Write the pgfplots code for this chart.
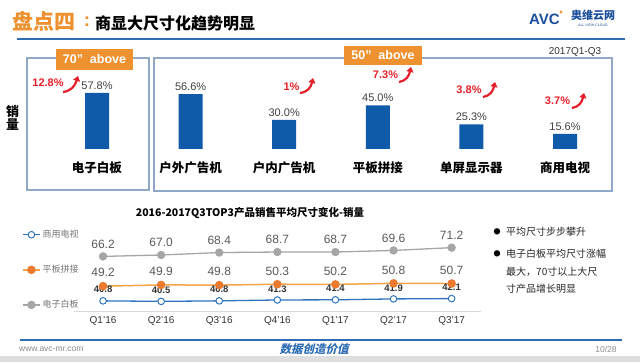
\documentclass[border=0pt]{standalone}
\usepackage{fontspec}
\setmainfont{Liberation Sans}
\newfontfamily\cjk{Noto Sans CJK SC}
\newfontfamily\cjkslant{Noto Sans CJK SC}[FakeSlant=0.25]
\usepackage{pgfplots}
\pgfplotsset{compat=1.18}
\usetikzlibrary{arrows.meta}
\definecolor{barblue}{HTML}{0F5BAA}
\definecolor{lineblue}{HTML}{2E6DB4}
\definecolor{orangeT}{HTML}{EE9130}
\definecolor{boxcol}{HTML}{8FA8C8}
\definecolor{redA}{HTML}{E5202A}
\definecolor{txtgray}{HTML}{595959}
\definecolor{lgray}{HTML}{A6A6A6}
\definecolor{lorange}{HTML}{F4A347}
\definecolor{dorange}{HTML}{EB7A2E}
\definecolor{sblue}{HTML}{2F75BE}
\definecolor{logoblue}{HTML}{1B4F9C}
\tikzset{redarrow/.style={draw=redA, line width=2.2pt, -{Triangle[length=5pt,width=7pt]}}}
\begin{document}
\begin{tikzpicture}[x=1pt,y=1pt]
\path[use as bounding box] (0pt,0pt) rectangle (640pt,362pt);
\fill[black!13] (0,0) rectangle (640,6);
% ---------- header
\node[anchor=west, inner sep=0, text=orangeT, font=\cjk\bfseries\fontsize{21}{21}\selectfont] at (12,341) {盘点四};
\node[anchor=center, inner sep=0, text=orangeT, font=\bfseries\fontsize{19}{19}\selectfont] at (87,340) {:};
\node[anchor=west, inner sep=0, font=\cjk\bfseries\fontsize{16}{16}\selectfont] at (95,339) {商显大尺寸化趋势明显};
\draw[lineblue, line width=2pt] (17,323) -- (625,323);
\node[anchor=west, inner sep=0, text=logoblue, font=\bfseries\fontsize{15}{15}\selectfont] at (529,343) {AVC};
\fill[orangeT] (561,350) circle (1.6);
\node[anchor=west, inner sep=0, text=logoblue, font=\cjk\bfseries\fontsize{11}{11}\selectfont] at (571,347) {奥维云网};
\node[anchor=west, inner sep=0, text=logoblue, font=\fontsize{3.5}{4}\selectfont] at (578,336.5) {ALL VIEW CLOUD};
\node[anchor=center, inner sep=0, text=black!80, font=\fontsize{10}{10}\selectfont] at (575,310) {2017Q1-Q3};
% ---------- boxes
\draw[boxcol, line width=1.1pt] (27,304) rectangle (149,172);
\draw[boxcol, line width=1.1pt] (154,304) rectangle (612,171);
\node[fill=orangeT, text=white, font=\bfseries\fontsize{12.5}{13}\selectfont, minimum width=77pt, minimum height=21pt, inner sep=0] at (94.5,302.5) {70”~ above};
\node[fill=orangeT, text=white, font=\bfseries\fontsize{12.5}{13}\selectfont, minimum width=78pt, minimum height=19.5pt, inner sep=0] at (383,306.5) {50”~ above};
\node[align=center, inner sep=0, font=\cjk\bfseries\fontsize{13}{13}\selectfont] at (12.5,244) {销\\量};
% ---------- bar chart
\begin{axis}[at={(50.2pt,213pt)}, anchor=south west, scale only axis,
  width=561.6pt, height=58.2pt, xmin=-0.5, xmax=5.5, ymin=0, ymax=60,
  enlargelimits=false, axis line style={draw=none}, ytick=\empty,
  xtick={0,1,2,3,4,5},
  xticklabels={电子白板,户外广告机,户内广告机,平板拼接,单屏显示器,商用电视},
  major tick length=0pt,
  xticklabel style={font=\cjk\bfseries\fontsize{12.5}{13}\selectfont, yshift=-9pt},
  ybar, bar width=24pt, clip=false,
  /pgf/number format/assume math mode=true,
  nodes near coords={\pgfmathprintnumber[fixed,fixed zerofill,precision=1,assume math mode=true]{\pgfplotspointmeta}\%},
  every node near coord/.append style={font=\fontsize{11}{12}\selectfont, text=black!75}]
\addplot[fill=barblue, draw=none] coordinates {(0,57.8) (1,56.6) (2,30.0) (3,45.0) (4,25.3) (5,15.6)};
\end{axis}
% red growth annotations
\node[text=redA, font=\bfseries\fontsize{11}{12}\selectfont, inner sep=0] at (48,279) {12.8\%};
\draw[redarrow] (63,270) .. controls (71,271) and (75,276) .. (78,286);
\node[text=redA, font=\bfseries\fontsize{11}{12}\selectfont, inner sep=0] at (291.5,275) {1\%};
\draw[redarrow] (300,269) .. controls (308,270) and (311,275) .. (313,284);
\node[text=redA, font=\bfseries\fontsize{11}{12}\selectfont, inner sep=0] at (385.5,287) {7.3\%};
\draw[redarrow] (399,280) .. controls (406,281) and (409,286) .. (411,295);
\node[text=redA, font=\bfseries\fontsize{11}{12}\selectfont, inner sep=0] at (469,272) {3.8\%};
\draw[redarrow] (483,265) .. controls (490,266) and (493,271) .. (495,280);
\node[text=redA, font=\bfseries\fontsize{11}{12}\selectfont, inner sep=0] at (557.5,261) {3.7\%};
\draw[redarrow] (572,254) .. controls (579,255) and (582,260) .. (584,269);
% ---------- line chart
\node[inner sep=0, font=\cjk\bfseries\fontsize{10.5}{11}\selectfont] at (250,149) {2016-2017Q3TOP3产品销售平均尺寸变化-销量};
\begin{axis}[at={(74pt,51pt)}, anchor=south west, scale only axis,
  width=406.7pt, height=78.75pt, xmin=-0.5, xmax=6.5, ymin=35, ymax=80,
  enlargelimits=false, axis x line=bottom, axis y line=none,
  axis line style={-, draw=black!15, line width=0.8pt},
  xtick={0,1,2,3,4,5,6},
  xticklabels={Q1'16,Q2'16,Q3'16,Q4'16,Q1'17,Q2'17,Q3'17},
  major tick length=0pt,
  xticklabel style={font=\fontsize{10}{11}\selectfont, text=black!80, yshift=-2pt},
  clip=false,
  /pgf/number format/.cd, fixed, fixed zerofill, precision=1, assume math mode=true, /pgfplots/.cd,
  legend style={at={(-0.128,1.054)}, anchor=north west, draw=none, fill=none,
    font=\cjk\fontsize{9}{10}\selectfont, text=black!55, row sep=22pt, inner sep=0pt},
  legend cell align=left]
\addplot[sblue, line width=1.3pt, mark=*, mark size=3.3pt, mark options={fill=white, draw=sblue, line width=1pt},
  nodes near coords, every node near coord/.append style={font=\bfseries\fontsize{9.5}{10}\selectfont, text=black!80, yshift=4pt}]
  coordinates {(0,40.8) (1,40.5) (2,40.8) (3,41.3) (4,41.4) (5,41.9) (6,42.1)};
\addlegendentry{商用电视}
\addplot[lorange, line width=1.5pt, mark=*, mark size=3.5pt, mark options={fill=dorange, draw=dorange},
  nodes near coords, every node near coord/.append style={font=\fontsize{12}{13}\selectfont, text=txtgray, yshift=5pt}]
  coordinates {(0,49.2) (1,49.9) (2,49.8) (3,50.3) (4,50.2) (5,50.8) (6,50.7)};
\addlegendentry{平板拼接}
\addplot[lgray, line width=1.3pt, mark=*, mark size=3.5pt, mark options={fill=lgray, draw=lgray},
  nodes near coords, every node near coord/.append style={font=\fontsize{12}{13}\selectfont, text=txtgray, yshift=4pt}]
  coordinates {(0,66.2) (1,67.0) (2,68.4) (3,68.7) (4,68.7) (5,69.6) (6,71.2)};
\addlegendentry{电子白板}
\end{axis}
% right bullet notes
\node[anchor=center, inner sep=0, font=\cjk\fontsize{7}{7}\selectfont] at (497,130) {●};
\node[anchor=west, inner sep=0, font=\cjk\fontsize{10}{10}\selectfont, text=black!85] at (506,130) {平均尺寸步步攀升};
\node[anchor=center, inner sep=0, font=\cjk\fontsize{7}{7}\selectfont] at (497,108) {●};
\node[anchor=west, inner sep=0, font=\cjk\fontsize{10}{10}\selectfont, text=black!85] at (506,108) {电子白板平均尺寸涨幅};
\node[anchor=west, inner sep=0, font=\cjk\fontsize{10}{10}\selectfont, text=black!85] at (506,90) {最大，70寸以上大尺};
\node[anchor=west, inner sep=0, font=\cjk\fontsize{10}{10}\selectfont, text=black!85] at (506,73) {寸产品增长明显};
% ---------- footer
\draw[lineblue, line width=2.5pt] (20,22) -- (622,22);
\node[anchor=west, inner sep=0, text=black!45, font=\fontsize{8.5}{9}\selectfont] at (19,13) {www.avc-mr.com};
\node[inner sep=0, text=lineblue, font=\cjkslant\bfseries\fontsize{11.5}{12}\selectfont] at (314,13) {数据创造价值};
\node[inner sep=0, text=black!45, font=\fontsize{8.5}{9}\selectfont] at (606,13) {10/28};
\end{tikzpicture}
\end{document}
